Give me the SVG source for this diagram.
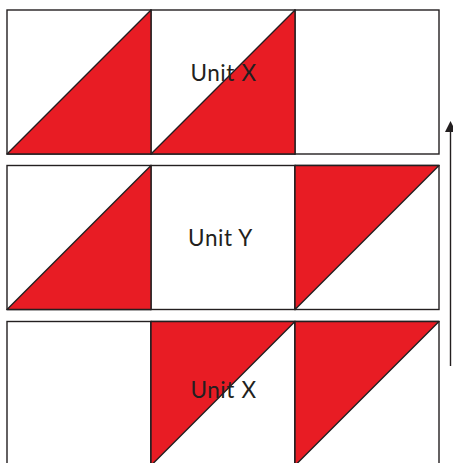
<svg xmlns="http://www.w3.org/2000/svg" width="453" height="463" viewBox="0 0 453 463">
<defs>
<style>
.sq{fill:#fff;stroke:#231f20;stroke-width:1.4}
.red{fill:#e81c24;stroke:#231f20;stroke-width:1.4;stroke-linejoin:round}
.lbl{font-family:Lato,"Open Sans",sans-serif;font-size:22.5px;letter-spacing:0.6px;fill:#231f20;text-anchor:middle}
.arr{stroke:#231f20;stroke-width:1.4;fill:none}
</style>
</defs>
<rect width="453" height="463" fill="#fff"/>
<g id="row1">
<rect class="sq" x="7" y="10" width="144" height="144"/>
<rect class="sq" x="151" y="10" width="144" height="144"/>
<rect class="sq" x="295" y="10" width="144" height="144"/>
<polygon class="red" points="7,154 151,10 151,154"/>
<polygon class="red" points="151,154 295,10 295,154"/>
<text class="lbl" x="223.5" y="81">Unit X</text>
</g>
<g id="row2">
<rect class="sq" x="7" y="165.5" width="144" height="144"/>
<rect class="sq" x="151" y="165.5" width="144" height="144"/>
<rect class="sq" x="295" y="165.5" width="144" height="144"/>
<polygon class="red" points="7,309.5 151,165.5 151,309.5"/>
<polygon class="red" points="295,165.5 439,165.5 295,309.5"/>
<text class="lbl" x="220.5" y="246">Unit Y</text>
</g>
<g id="row3">
<rect class="sq" x="7" y="321.5" width="144" height="144"/>
<rect class="sq" x="151" y="321.5" width="144" height="144"/>
<rect class="sq" x="295" y="321.5" width="144" height="144"/>
<polygon class="red" points="151,321.5 295,321.5 151,465.5"/>
<polygon class="red" points="295,321.5 439,321.5 295,465.5"/>
<text class="lbl" x="223.5" y="398">Unit X</text>
</g>
<g id="connectors">
<line class="arr" x1="450.5" y1="366" x2="450.5" y2="130"/>
<polygon points="450.5,121 445,132 456,132" fill="#231f20"/>
</g>
</svg>
